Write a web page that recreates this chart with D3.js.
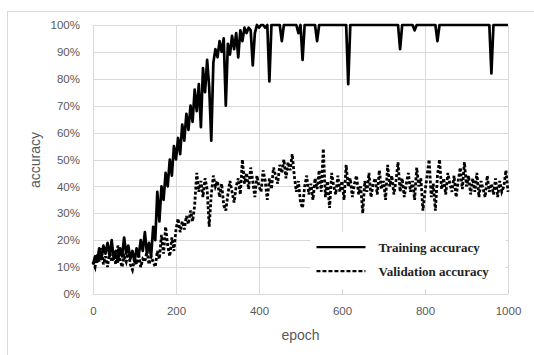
<!DOCTYPE html>
<html>
<head>
<meta charset="utf-8">
<script src="https://cdn.jsdelivr.net/npm/d3@7"></script>
<style>
  body { margin: 0; background: #fff; }
  .tick text { font-family: "Liberation Sans", Arial, sans-serif; font-size: 11.5px; fill: #595959; }
</style>
</head>
<body>
<div id="chart"></div>
<script>
var width = 534;
var height = 355;

// one value every 5 epochs, epoch 0..1000
var epochStep = 5;

var trainAcc = [
  11,14,12,17,13,18,15,19,14,20,13,16,12,17,14,21,15,18,13,16,
  12,17,14,20,16,23,15,19,14,25,20,38,27,40,35,45,40,50,44,55,
  50,58,52,63,57,67,61,70,64,76,68,78,62,84,75,87,77,57,86,91,
  88,94,90,95,70,93,89,96,91,97,88,98,94,99,97,99,98,85,97,100,
  99,100,100,99,100,79,100,100,100,100,100,94,100,100,100,100,100,100,100,97,
  100,87,100,100,100,100,100,100,94,100,100,100,100,100,100,100,100,100,100,100,
  100,100,100,78,100,100,100,100,100,100,100,100,100,100,100,100,100,100,100,100,
  100,100,100,100,100,100,100,100,91,100,100,100,100,100,100,98,100,100,100,100,
  100,100,100,100,100,100,94,100,100,100,100,100,100,100,100,100,100,100,100,100,
  100,100,100,100,100,100,100,100,100,100,100,100,82,100,100,100,100,100,100,100,
  100
];

var valAcc = [
  12,10,15,12,17,11,14,10,16,12,15,11,18,13,10,14,12,16,11,9,
  13,11,15,10,13,12,16,11,14,12,10,16,13,22,15,25,18,14,21,16,
  24,28,23,27,24,29,26,31,27,33,45,38,42,36,43,39,25,37,44,40,
  42,36,41,33,31,37,42,38,34,40,43,37,50,41,45,39,47,42,36,44,
  40,38,46,42,35,43,39,47,44,41,48,45,50,43,49,46,52,44,38,42,
  34,32,40,44,37,41,35,43,39,46,38,54,36,42,32,45,40,37,44,38,
  42,35,48,40,43,36,41,44,37,40,30,42,38,45,36,41,43,37,46,39,
  42,35,48,40,44,37,42,49,38,43,36,41,45,38,42,35,47,40,43,31,
  38,44,50,36,41,31,44,50,39,43,37,45,41,38,44,36,42,47,39,49,
  40,44,37,43,38,45,36,42,39,36,44,38,41,37,43,36,42,38,40,46,
  38
];

var xTicks = [0, 200, 400, 600, 800, 1000];
var yTicks = [0, 10, 20, 30, 40, 50, 60, 70, 80, 90, 100];
var legendLabels = ["Training accuracy", "Validation accuracy"];

var margin = { top: 25, right: 26, bottom: 61, left: 93 };
var plotW = width - margin.left - margin.right;
var plotH = height - margin.top - margin.bottom;

var svg = d3.select("#chart")
    .append("svg")
    .attr("width", width)
    .attr("height", height);

// outer chart frame
svg.append("rect")
    .attr("x", 7.5)
    .attr("y", 11.5)
    .attr("width", 540)
    .attr("height", 360)
    .style("fill", "none")
    .style("stroke", "#d9d9d9");

var g = svg.append("g")
    .attr("transform", "translate(" + margin.left + "," + margin.top + ")");

var x = d3.scaleLinear().domain([0, 1000]).range([0, plotW]);
var y = d3.scaleLinear().domain([0, 100]).range([plotH, 0]);

// gridlines
g.append("g")
    .selectAll("line.h")
    .data(yTicks)
    .enter().append("line")
    .attr("x1", 0).attr("x2", plotW)
    .attr("y1", function (d) { return Math.round(y(d)) + 0.5; })
    .attr("y2", function (d) { return Math.round(y(d)) + 0.5; })
    .style("stroke", "#d9d9d9");

g.append("g")
    .selectAll("line.v")
    .data(xTicks)
    .enter().append("line")
    .attr("y1", 0).attr("y2", plotH)
    .attr("x1", function (d) { return Math.round(x(d)) + 0.5; })
    .attr("x2", function (d) { return Math.round(x(d)) + 0.5; })
    .style("stroke", "#d9d9d9");

// axes (labels only)
var yAxis = d3.axisLeft(y)
    .tickValues(yTicks)
    .tickSize(0)
    .tickPadding(13)
    .tickFormat(function (d) { return d + "%"; });

var xAxis = d3.axisBottom(x)
    .tickValues(xTicks)
    .tickSize(0)
    .tickPadding(13)
    .tickFormat(d3.format("d"));

g.append("g").call(yAxis).select(".domain").remove();
g.append("g").attr("transform", "translate(0," + plotH + ")").call(xAxis).select(".domain").remove();

var line = d3.line()
    .x(function (d, i) { return x(i * epochStep); })
    .y(function (d) { return y(d); });

g.append("path")
    .datum(valAcc)
    .attr("d", line)
    .style("fill", "none")
    .style("stroke", "#000")
    .style("stroke-width", 2.8)
    .style("stroke-dasharray", "3,2");

g.append("path")
    .datum(trainAcc)
    .attr("d", line)
    .style("fill", "none")
    .style("stroke", "#000")
    .style("stroke-width", 2.7)
    .style("stroke-linejoin", "round");

// legend with white background
var legend = g.append("g").attr("transform", "translate(" + (x(524)) + "," + (y(23)) + ")");
legend.append("rect")
    .attr("width", 195)
    .attr("height", 57)
    .style("fill", "#fff");

legend.selectAll("line")
    .data(legendLabels)
    .enter().append("line")
    .attr("x1", 6).attr("x2", 55)
    .attr("y1", function (d, i) { return 15 + i * 24; })
    .attr("y2", function (d, i) { return 15 + i * 24; })
    .style("stroke", "#000")
    .style("stroke-width", 2.4)
    .style("stroke-dasharray", function (d, i) { return i ? "4,2" : null; });

legend.selectAll("text")
    .data(legendLabels)
    .enter().append("text")
    .attr("x", 68)
    .attr("y", function (d, i) { return 15 + i * 24; })
    .attr("dy", "0.35em")
    .style("font-family", "'Liberation Serif', 'Times New Roman', serif")
    .style("font-weight", "bold")
    .style("font-size", "13px")
    .style("fill", "#222")
    .text(function (d) { return d; });

// axis titles
svg.append("text")
    .attr("transform", "translate(40," + (margin.top + 135) + ") rotate(-90)")
    .attr("text-anchor", "middle")
    .style("font-family", "'Liberation Sans', Arial, sans-serif")
    .style("font-size", "14px")
    .style("fill", "#595959")
    .text("accuracy");

svg.append("text")
    .attr("x", margin.left + plotW / 2)
    .attr("y", 340)
    .attr("text-anchor", "middle")
    .style("font-family", "'Liberation Sans', Arial, sans-serif")
    .style("font-size", "14px")
    .style("fill", "#595959")
    .text("epoch");
</script>
</body>
</html>
